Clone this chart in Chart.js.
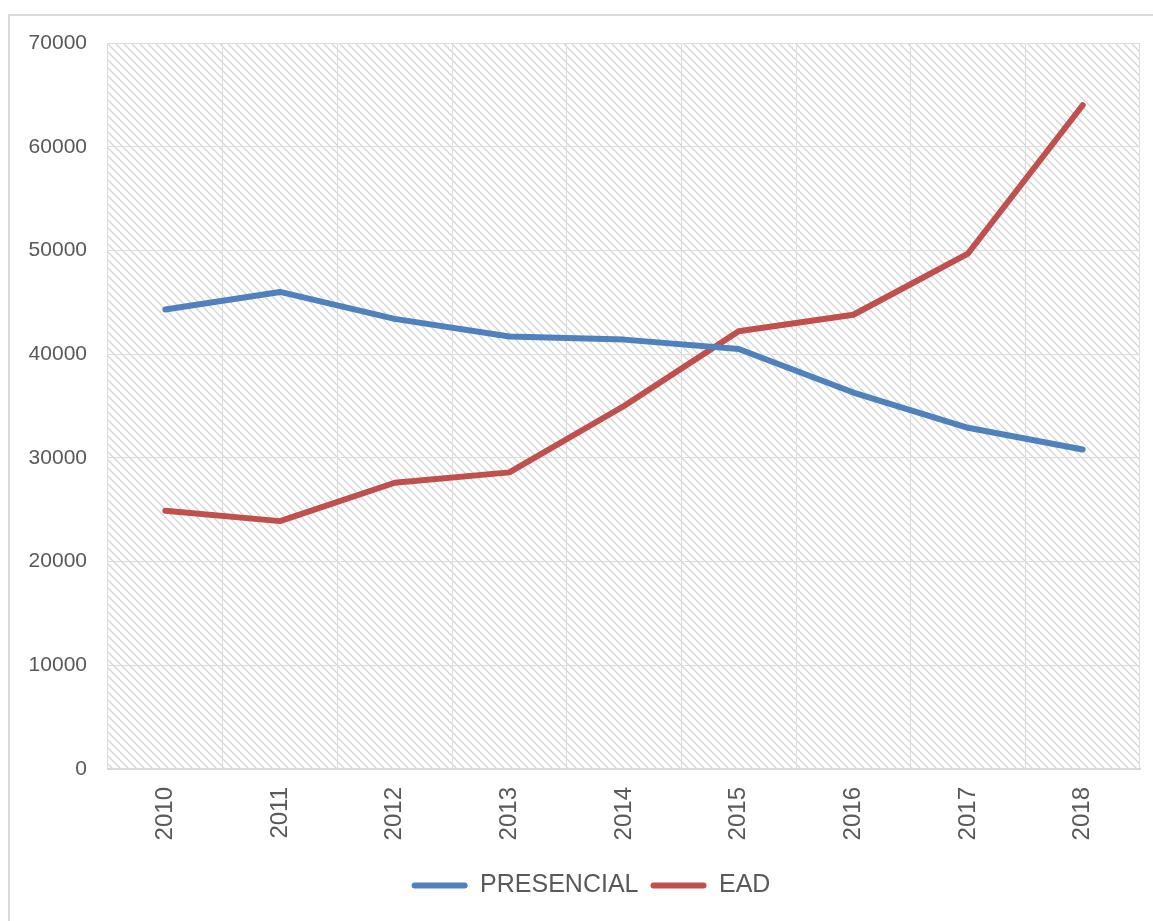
<!DOCTYPE html>
<html>
<head>
<meta charset="utf-8">
<script src="https://cdn.jsdelivr.net/npm/chart.js@4.4.1/dist/chart.umd.min.js"></script>
<style>
  html, body { margin: 0; padding: 0; background: #fff; }
  #wrap { position: relative; width: 1153px; height: 921px; }
</style>
</head>
<body>
<div id="wrap"><canvas id="lineChart" width="1153" height="921"></canvas></div>
<script>
// data
const years = ['2010', '2011', '2012', '2013', '2014', '2015', '2016', '2017', '2018'];
const presencial = [44300, 46000, 43400, 41700, 41400, 40500, 36300, 32900, 30800];
const ead = [24900, 23900, 27600, 28600, 35000, 42200, 43800, 49700, 64000];
const yTicks = [0, 10000, 20000, 30000, 40000, 50000, 60000, 70000];

// hatch fill for plot area
function makeHatch() {
    const c = document.createElement('canvas');
    c.width = 8; c.height = 8;
    const g = c.getContext('2d');
    g.strokeStyle = '#d4d4d4';
    g.lineWidth = 1.3;
    g.beginPath();
    g.moveTo(-2, -2); g.lineTo(10, 10);
    g.moveTo(-6, 2); g.lineTo(2, 10);
    g.moveTo(6, -2); g.lineTo(10, 2);
    g.stroke();
    return c;
}

const plotBg = {
    id: 'plotBg',
    afterLayout(chart) {
        // nudge legend a bit right, like the original
        chart.legend.left += 21;
        chart.legend.right += 21;
    },
    beforeDraw(chart) {
        const { ctx, chartArea: a } = chart;
        ctx.save();
        // outer frame
        ctx.strokeStyle = '#d9d9d9';
        ctx.lineWidth = 2;
        ctx.beginPath();
        ctx.moveTo(9, 940); ctx.lineTo(9, 15); ctx.lineTo(1200, 15);
        ctx.stroke();
        ctx.fillStyle = ctx.createPattern(makeHatch(), 'repeat');
        ctx.fillRect(a.left, a.top, a.right - a.left, a.bottom - a.top);
        ctx.restore();
    }
};

const ctx = document.getElementById('lineChart').getContext('2d');
new Chart(ctx, {
    type: 'line',
    data: {
        labels: years,
        datasets: [{
            label: 'PRESENCIAL',
            data: presencial,
            borderColor: '#4f81bd',
            backgroundColor: '#4f81bd',
            borderWidth: 6,
            borderCapStyle: 'round',
            borderJoinStyle: 'round',
            pointRadius: 0,
            tension: 0
        }, {
            label: 'EAD',
            data: ead,
            borderColor: '#c0504d',
            backgroundColor: '#c0504d',
            borderWidth: 6,
            borderCapStyle: 'round',
            borderJoinStyle: 'round',
            pointRadius: 0,
            tension: 0
        }]
    },
    options: {
        responsive: false,
        animation: false,
        layout: { padding: { left: 0, top: 43, right: 13, bottom: 13 } },
        plugins: {
            legend: {
                position: 'bottom',
                labels: {
                    boxWidth: 56,
                    boxHeight: 6,
                    useBorderRadius: true,
                    borderRadius: 3,
                    padding: 12,
                    color: '#595959',
                    font: { family: 'Liberation Sans', size: 25 },
                    generateLabels(chart) {
                        return Chart.defaults.plugins.legend.labels.generateLabels(chart)
                            .map(l => Object.assign(l, { lineWidth: 0 }));
                    }
                }
            },
            tooltip: { enabled: false }
        },
        scales: {
            x: {
                offset: true,
                grid: { offset: true, color: '#dedede', lineWidth: 1, drawTicks: false },
                border: { color: '#d9d9d9', width: 2 },
                ticks: {
                    minRotation: 90,
                    maxRotation: 90,
                    padding: 18,
                    color: '#595959',
                    font: { family: 'Liberation Sans', size: 24 }
                },
                afterFit(scale) { scale.height = 92; }
            },
            y: {
                min: 0,
                max: 70000,
                afterBuildTicks(scale) { scale.ticks = yTicks.map(v => ({ value: v })); },
                grid: { color: '#dedede', lineWidth: 1, drawTicks: false },
                border: { display: false },
                ticks: {
                    padding: 21,
                    color: '#595959',
                    font: { family: 'Liberation Sans', size: 21 },
                    callback: v => String(v)
                },
                afterFit(scale) { scale.width = 108; }
            }
        }
    },
    plugins: [plotBg]
});
</script>
</body>
</html>
